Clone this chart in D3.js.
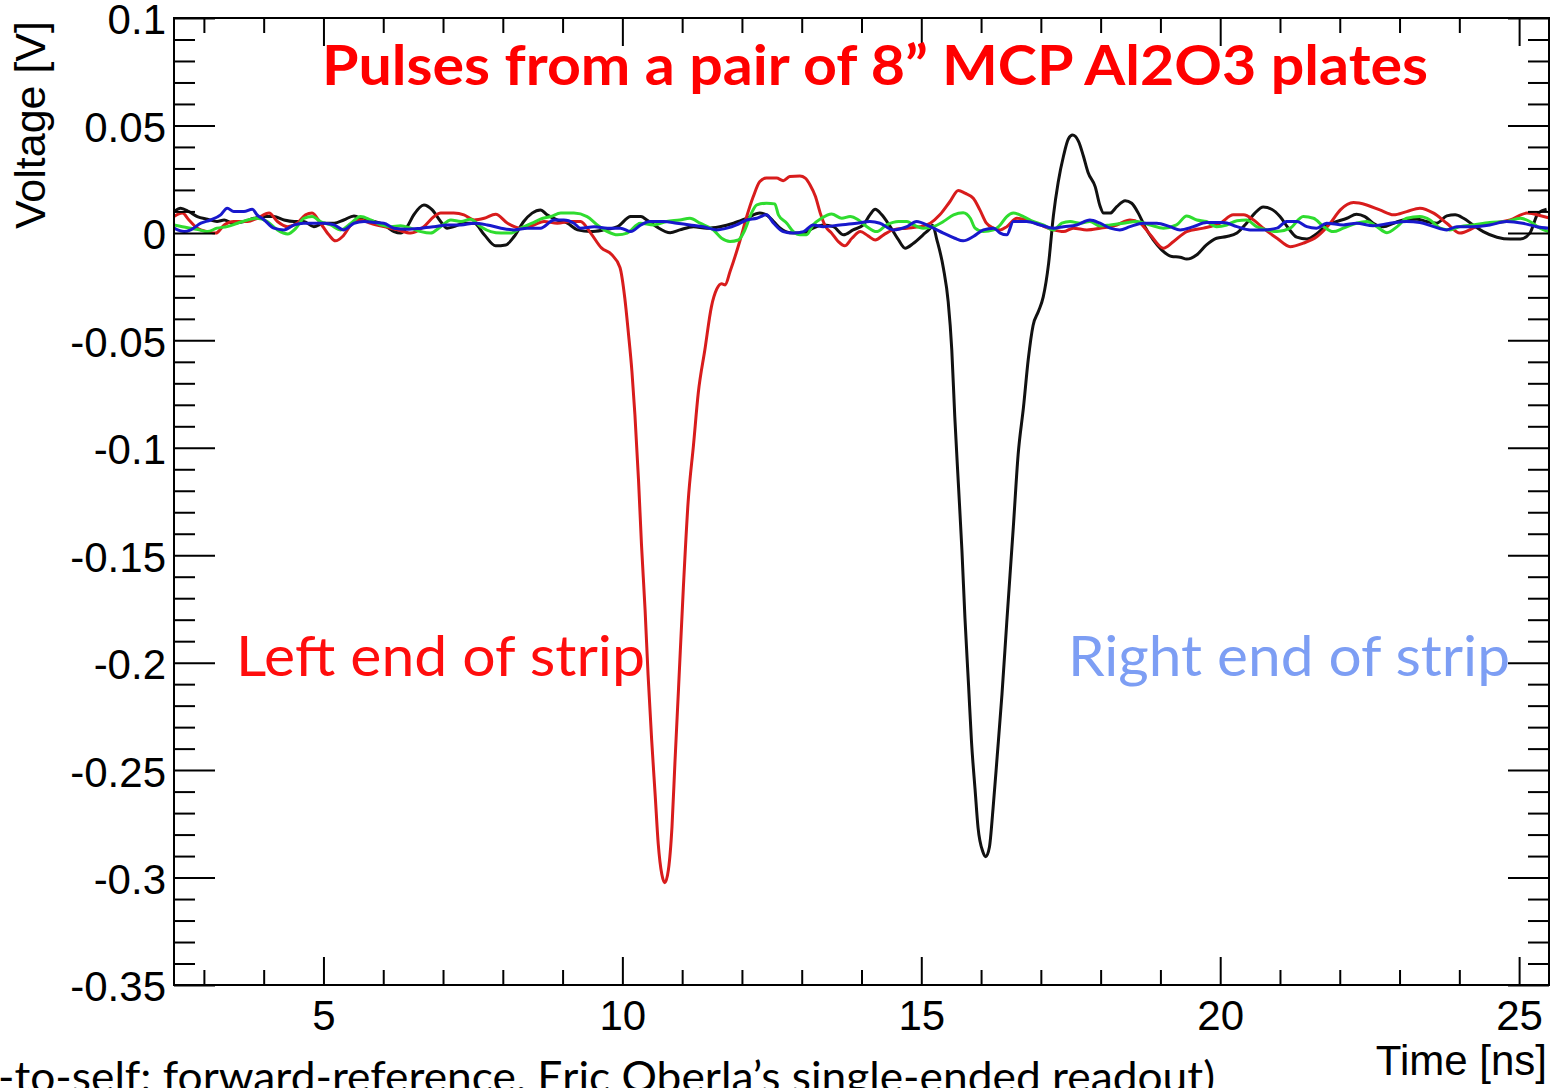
<!DOCTYPE html>
<html>
<head>
<meta charset="utf-8">
<script src="https://cdn.jsdelivr.net/npm/d3@7"></script>
<style>
  body { margin: 0; background: white; }
  svg { display: block; }
</style>
</head>
<body>
<div class="wrapper"></div>
<script>
// axis setup
const xTicks = [5, 10, 15, 20, 25];
const xTickLabels = ["5", "10", "15", "20", "25"];
const yTicks = [0.1, 0.05, 0, -0.05, -0.1, -0.15, -0.2, -0.25, -0.3, -0.35];
const yTickLabels = ["0.1", "0.05", "0", "-0.05", "-0.1", "-0.15", "-0.2", "-0.25", "-0.3", "-0.35"];

// traces: [time ns, voltage V]
const blackTrace = [
  [2.50,0.0099],[2.61,0.0115],[2.75,0.0099],[2.89,0.0076],[3.06,0.0064],[3.22,0.0053],[3.34,0.0060],[3.48,0.0045],
  [3.67,0.0053],[3.84,0.0068],[4.01,0.0076],[4.17,0.0076],[4.34,0.0060],[4.51,0.0053],[4.67,0.0053],[4.84,0.0029],
  [5.01,0.0045],[5.18,0.0045],[5.34,0.0060],[5.51,0.0079],[5.68,0.0060],[5.85,0.0053],[6.01,0.0037],[6.18,0.0006],
  [6.29,-0.0001],[6.40,0.0029],[6.51,0.0084],[6.68,0.0130],[6.82,0.0107],[6.96,0.0053],[7.07,0.0022],[7.18,0.0029],
  [7.35,0.0045],[7.52,0.0045],[7.69,-0.0009],[7.88,-0.0060],[8.05,-0.0056],[8.19,-0.0017],[8.35,0.0053],[8.49,0.0092],
  [8.63,0.0107],[8.74,0.0084],[8.91,0.0060],[9.08,0.0045],[9.25,0.0014],[9.47,0.0006],[9.69,0.0014],[9.92,0.0029],
  [10.14,0.0076],[10.31,0.0076],[10.41,0.0060],[10.57,0.0029],[10.80,0.0001],[10.96,0.0014],[11.19,0.0029],[11.41,0.0022],
  [11.63,0.0029],[11.86,0.0045],[12.08,0.0068],[12.30,0.0092],[12.41,0.0084],[12.53,0.0053],[12.64,0.0022],[12.80,0.0001],
  [13.03,-0.0001],[13.19,0.0022],[13.36,0.0037],[13.53,0.0029],[13.70,-0.0009],[13.86,0.0014],[14.03,0.0037],[14.14,0.0084],
  [14.23,0.0110],[14.34,0.0084],[14.48,0.0029],[14.62,-0.0033],[14.73,-0.0071],[14.87,-0.0048],[15.03,-0.0009],[15.15,0.0022],
  [15.19,0.0036],[15.26,-0.0031],[15.37,-0.0164],[15.45,-0.0320],[15.51,-0.0543],[15.56,-0.0854],[15.62,-0.1166],[15.68,-0.1478],
  [15.73,-0.1790],[15.79,-0.2101],[15.84,-0.2368],[15.90,-0.2591],[15.95,-0.2769],[16.03,-0.2880],[16.08,-0.2903],[16.14,-0.2858],
  [16.20,-0.2680],[16.27,-0.2435],[16.35,-0.2146],[16.43,-0.1812],[16.54,-0.1367],[16.62,-0.1032],[16.71,-0.0810],[16.79,-0.0587],
  [16.87,-0.0431],[16.96,-0.0365],[17.04,-0.0298],[17.13,-0.0142],[17.21,0.0080],[17.29,0.0236],[17.38,0.0359],[17.46,0.0437],
  [17.53,0.0455],[17.63,0.0426],[17.71,0.0359],[17.79,0.0281],[17.91,0.0214],[17.99,0.0125],[18.05,0.0092],[18.16,0.0092],
  [18.27,0.0122],[18.41,0.0150],[18.52,0.0138],[18.63,0.0092],[18.74,0.0029],[18.88,-0.0033],[19.02,-0.0079],[19.19,-0.0110],
  [19.33,-0.0113],[19.44,-0.0122],[19.61,-0.0102],[19.77,-0.0056],[19.94,-0.0025],[20.11,-0.0017],[20.28,-0.0001],[20.44,0.0045],
  [20.58,0.0092],[20.72,0.0120],[20.86,0.0110],[21.00,0.0076],[21.14,0.0022],[21.28,-0.0020],[21.45,-0.0029],[21.61,-0.0005],
  [21.78,0.0037],[21.95,0.0053],[22.12,0.0068],[22.28,0.0087],[22.42,0.0076],[22.56,0.0045],[22.73,0.0029],[22.90,0.0045],
  [23.06,0.0060],[23.29,0.0064],[23.45,0.0053],[23.62,0.0045],[23.79,0.0079],[23.93,0.0084],[24.07,0.0068],[24.23,0.0037],
  [24.40,0.0006],[24.63,-0.0020],[24.85,-0.0029],[25.02,-0.0029],[25.18,-0.0001],[25.32,0.0092],[25.46,0.0110]
];

const redTrace = [
  [2.50,0.0076],[2.64,0.0092],[2.75,0.0060],[2.89,0.0022],[3.06,0.0006],[3.20,-0.0001],[3.34,0.0037],[3.50,0.0053],
  [3.73,0.0053],[3.89,0.0068],[4.09,0.0092],[4.23,0.0053],[4.40,0.0029],[4.56,0.0045],[4.70,0.0084],[4.81,0.0092],
  [4.95,0.0045],[5.09,-0.0009],[5.20,-0.0037],[5.32,-0.0017],[5.46,0.0037],[5.62,0.0060],[5.79,0.0045],[6.01,0.0029],
  [6.24,0.0014],[6.46,-0.0001],[6.68,0.0029],[6.85,0.0076],[6.96,0.0092],[7.18,0.0092],[7.35,0.0084],[7.52,0.0060],
  [7.69,0.0068],[7.88,0.0087],[8.08,0.0045],[8.30,0.0022],[8.52,0.0037],[8.69,0.0053],[8.91,0.0045],[9.14,0.0053],
  [9.30,0.0053],[9.47,-0.0001],[9.65,-0.0070],[9.82,-0.0101],[9.96,-0.0161],[10.04,-0.0302],[10.10,-0.0464],[10.16,-0.0645],
  [10.21,-0.0847],[10.27,-0.1149],[10.32,-0.1452],[10.38,-0.1754],[10.43,-0.2057],[10.49,-0.2359],[10.55,-0.2622],[10.60,-0.2843],
  [10.66,-0.2985],[10.71,-0.3024],[10.77,-0.2964],[10.83,-0.2764],[10.88,-0.2461],[10.94,-0.2117],[11.02,-0.1652],[11.10,-0.1252],
  [11.19,-0.0986],[11.27,-0.0744],[11.38,-0.0544],[11.49,-0.0343],[11.58,-0.0261],[11.66,-0.0237],[11.72,-0.0242],[11.80,-0.0181],
  [11.97,-0.0033],[12.08,0.0076],[12.19,0.0169],[12.30,0.0239],[12.41,0.0255],[12.58,0.0255],[12.69,0.0243],[12.80,0.0262],
  [12.97,0.0265],[13.06,0.0255],[13.14,0.0223],[13.23,0.0169],[13.31,0.0092],[13.40,0.0029],[13.50,-0.0001],[13.61,-0.0040],
  [13.72,-0.0060],[13.84,-0.0025],[13.98,0.0006],[14.11,-0.0014],[14.23,-0.0033],[14.37,-0.0009],[14.53,0.0014],[14.76,0.0022],
  [14.98,0.0029],[15.15,0.0045],[15.31,0.0084],[15.48,0.0146],[15.62,0.0197],[15.73,0.0185],[15.87,0.0161],[15.98,0.0107],
  [16.09,0.0045],[16.21,0.0022],[16.32,0.0014],[16.43,0.0029],[16.60,0.0068],[16.76,0.0060],[16.99,0.0037],[17.21,0.0014],
  [17.38,0.0006],[17.54,0.0022],[17.77,0.0014],[17.99,0.0022],[18.27,0.0037],[18.49,0.0060],[18.66,0.0045],[18.83,-0.0009],
  [19.05,-0.0071],[19.22,-0.0040],[19.44,0.0006],[19.72,0.0022],[20.00,0.0045],[20.22,0.0084],[20.39,0.0084],[20.56,0.0060],
  [20.72,0.0022],[20.95,-0.0025],[21.17,-0.0064],[21.39,-0.0048],[21.62,-0.0017],[21.84,0.0045],[22.01,0.0107],[22.23,0.0141],
  [22.45,0.0130],[22.67,0.0107],[22.90,0.0084],[23.12,0.0099],[23.34,0.0115],[23.57,0.0092],[23.79,0.0045],[24.01,-0.0001],
  [24.29,0.0029],[24.57,0.0045],[24.85,0.0060],[25.13,0.0092],[25.41,0.0076],[25.50,0.0070]
];

const greenTrace = [
  [2.50,0.0037],[2.64,0.0029],[2.78,0.0022],[2.92,0.0014],[3.06,0.0006],[3.22,0.0022],[3.39,0.0029],[3.56,0.0045],
  [3.73,0.0060],[3.89,0.0068],[4.06,0.0053],[4.23,0.0014],[4.40,-0.0005],[4.54,0.0022],[4.67,0.0068],[4.81,0.0076],
  [4.95,0.0053],[5.12,0.0037],[5.29,0.0014],[5.46,0.0045],[5.62,0.0076],[5.79,0.0060],[5.96,0.0037],[6.13,0.0029],
  [6.29,0.0033],[6.46,0.0022],[6.63,0.0006],[6.79,-0.0001],[6.96,0.0029],[7.13,0.0060],[7.30,0.0053],[7.46,0.0064],
  [7.63,0.0029],[7.80,0.0006],[7.97,-0.0001],[8.13,-0.0001],[8.30,0.0022],[8.49,0.0045],[8.63,0.0064],[8.80,0.0076],
  [8.97,0.0092],[9.19,0.0092],[9.41,0.0076],[9.58,0.0037],[9.75,0.0006],[9.92,-0.0009],[10.08,-0.0001],[10.30,0.0045],
  [10.52,0.0037],[10.74,0.0053],[10.96,0.0060],[11.13,0.0068],[11.30,0.0045],[11.52,0.0014],[11.66,-0.0025],[11.80,-0.0040],
  [11.94,-0.0033],[12.05,0.0014],[12.16,0.0092],[12.25,0.0130],[12.41,0.0138],[12.55,0.0135],[12.61,0.0084],[12.75,0.0045],
  [12.86,0.0006],[12.97,-0.0009],[13.08,-0.0009],[13.19,0.0037],[13.33,0.0068],[13.50,0.0088],[13.67,0.0068],[13.81,0.0076],
  [13.95,0.0060],[14.09,0.0029],[14.25,0.0006],[14.42,0.0037],[14.62,0.0053],[14.76,0.0053],[14.87,0.0037],[15.03,0.0022],
  [15.20,0.0029],[15.37,0.0053],[15.54,0.0084],[15.70,0.0094],[15.82,0.0068],[15.90,0.0022],[16.04,0.0006],[16.21,0.0014],
  [16.32,0.0037],[16.43,0.0076],[16.54,0.0092],[16.71,0.0076],[16.87,0.0053],[17.04,0.0037],[17.21,0.0014],[17.35,0.0045],
  [17.49,0.0053],[17.66,0.0045],[17.82,0.0053],[17.99,0.0032],[18.16,0.0037],[18.38,0.0045],[18.60,0.0053],[18.83,0.0037],
  [19.05,0.0022],[19.27,0.0037],[19.44,0.0079],[19.61,0.0060],[19.77,0.0053],[19.94,0.0029],[20.11,0.0037],[20.28,0.0057],
  [20.44,0.0060],[20.61,0.0029],[20.78,0.0014],[20.95,0.0006],[21.17,0.0022],[21.39,0.0076],[21.56,0.0068],[21.73,0.0029],
  [21.89,0.0006],[22.06,0.0022],[22.28,0.0045],[22.45,0.0053],[22.62,0.0029],[22.79,0.0001],[22.96,0.0029],[23.12,0.0068],
  [23.34,0.0076],[23.51,0.0060],[23.68,0.0022],[23.84,0.0014],[24.01,0.0029],[24.23,0.0037],[24.51,0.0048],[24.79,0.0053],
  [25.02,0.0068],[25.18,0.0053],[25.35,0.0022],[25.50,0.0005]
];

const blueTrace = [
  [2.50,0.0022],[2.67,0.0006],[2.78,0.0014],[2.95,0.0045],[3.11,0.0060],[3.28,0.0084],[3.39,0.0115],[3.50,0.0099],
  [3.67,0.0099],[3.81,0.0110],[3.89,0.0084],[4.01,0.0060],[4.17,0.0022],[4.34,0.0014],[4.51,0.0037],[4.67,0.0045],
  [4.84,0.0045],[5.01,0.0045],[5.18,0.0037],[5.34,0.0014],[5.51,0.0045],[5.68,0.0053],[5.85,0.0048],[6.01,0.0045],
  [6.18,0.0022],[6.40,0.0017],[6.63,0.0022],[6.85,0.0029],[7.07,0.0037],[7.30,0.0037],[7.52,0.0045],[7.74,0.0037],
  [7.97,0.0022],[8.19,0.0014],[8.41,0.0022],[8.63,0.0022],[8.86,0.0060],[9.02,0.0060],[9.19,0.0045],[9.30,0.0022],
  [9.53,0.0029],[9.75,0.0022],[9.97,0.0022],[10.14,0.0006],[10.31,0.0037],[10.46,0.0053],[10.69,0.0053],[10.91,0.0045],
  [11.13,0.0037],[11.35,0.0029],[11.58,0.0014],[11.75,0.0022],[11.91,0.0037],[12.08,0.0060],[12.25,0.0068],[12.41,0.0084],
  [12.53,0.0045],[12.69,0.0006],[12.86,-0.0001],[13.03,0.0006],[13.19,0.0037],[13.36,0.0029],[13.64,0.0037],[13.92,0.0045],
  [14.14,0.0053],[14.31,0.0045],[14.53,0.0014],[14.76,0.0029],[14.92,0.0053],[15.15,0.0029],[15.37,-0.0001],[15.56,-0.0025],
  [15.70,-0.0037],[15.87,-0.0017],[16.04,0.0014],[16.21,0.0022],[16.32,-0.0001],[16.43,-0.0009],[16.54,0.0053],[16.76,0.0053],
  [16.99,0.0037],[17.21,0.0022],[17.38,0.0029],[17.60,0.0037],[17.82,0.0060],[17.99,0.0045],[18.16,0.0022],[18.32,0.0014],
  [18.49,0.0029],[18.71,0.0045],[18.94,0.0045],[19.16,0.0029],[19.33,0.0014],[19.55,0.0029],[19.77,0.0048],[20.05,0.0048],
  [20.28,0.0029],[20.50,0.0014],[20.72,0.0014],[20.95,0.0022],[21.11,0.0053],[21.28,0.0053],[21.45,0.0029],[21.61,0.0022],
  [21.78,0.0045],[22.06,0.0037],[22.28,0.0045],[22.56,0.0033],[22.84,0.0045],[23.12,0.0053],[23.34,0.0048],[23.57,0.0029],
  [23.79,0.0014],[23.96,0.0029],[24.23,0.0029],[24.51,0.0037],[24.79,0.0053],[25.06,0.0045],[25.29,0.0029],[25.50,0.0022]
];

const traces = [
  { name: "black", data: blackTrace, color: "#111111" },
  { name: "red", data: redTrace, color: "#d81c1c" },
  { name: "green", data: greenTrace, color: "#2fdc2f" },
  { name: "blue", data: blueTrace, color: "#1818cc" }
];

const width = 1556, height = 1088;
const plot = { left: 174, right: 1549, top: 18, bottom: 985 };

const svg = d3.select(".wrapper")
  .append("svg")
  .attr("width", width)
  .attr("height", height)
  .style("font-family", "'Liberation Sans', Arial, sans-serif");

const x = d3.scaleLinear().domain([2.5, 25.5]).range([plot.left, plot.right]);
const y = d3.scaleLinear().domain([-0.35, 0.1]).range([plot.bottom, plot.top]);

svg.append("clipPath")
  .attr("id", "plotclip")
  .append("rect")
  .attr("x", plot.left)
  .attr("y", plot.top)
  .attr("width", plot.right - plot.left)
  .attr("height", plot.bottom - plot.top);

// traces
const line = d3.line()
  .x(d => x(d[0]))
  .y(d => y(d[1]))
  .curve(d3.curveMonotoneX);

svg.append("g")
  .attr("clip-path", "url(#plotclip)")
  .selectAll("path")
  .data(traces)
  .enter()
  .append("path")
  .attr("d", d => line(d.data))
  .attr("fill", "none")
  .attr("stroke", d => d.color)
  .attr("stroke-width", 3)
  .attr("stroke-linejoin", "round");

// ticks, ROOT style on all four sides
const xMinor = d3.range(3, 26, 1).filter(v => !xTicks.includes(v));
const yMinor = d3.range(-35, 11, 1).map(v => v / 100).filter(v => !yTicks.some(t => Math.abs(t - v) < 1e-9));

const styleAxis = g => {
  g.select(".domain").remove();
  g.selectAll("line").attr("stroke", "black").attr("stroke-width", 2);
  g.selectAll("text")
    .attr("fill", "black")
    .style("font-family", "'Liberation Sans', Arial, sans-serif")
    .style("font-size", "42px");
};

svg.append("g")
  .attr("transform", `translate(0,${plot.bottom})`)
  .call(d3.axisBottom(x).tickValues(xTicks).tickSize(-28).tickPadding(15)
    .tickFormat((d, i) => xTickLabels[i]))
  .call(styleAxis);

svg.append("g")
  .attr("transform", `translate(0,${plot.bottom})`)
  .call(d3.axisBottom(x).tickValues(xMinor).tickSize(-15).tickFormat(""))
  .call(styleAxis);

svg.append("g")
  .attr("transform", `translate(0,${plot.top})`)
  .call(d3.axisTop(x).tickValues(xTicks).tickSize(-28).tickFormat(""))
  .call(styleAxis);

svg.append("g")
  .attr("transform", `translate(0,${plot.top})`)
  .call(d3.axisTop(x).tickValues(xMinor).tickSize(-15).tickFormat(""))
  .call(styleAxis);

svg.append("g")
  .attr("transform", `translate(${plot.left},0)`)
  .call(d3.axisLeft(y).tickValues(yTicks).tickSize(-41).tickPadding(8)
    .tickFormat((d, i) => yTickLabels[i]))
  .call(styleAxis)
  .selectAll("text")
  .attr("dy", "0.38em");

svg.append("g")
  .attr("transform", `translate(${plot.left},0)`)
  .call(d3.axisLeft(y).tickValues(yMinor).tickSize(-21).tickFormat(""))
  .call(styleAxis);

svg.append("g")
  .attr("transform", `translate(${plot.right},0)`)
  .call(d3.axisRight(y).tickValues(yTicks).tickSize(-41).tickFormat(""))
  .call(styleAxis);

svg.append("g")
  .attr("transform", `translate(${plot.right},0)`)
  .call(d3.axisRight(y).tickValues(yMinor).tickSize(-21).tickFormat(""))
  .call(styleAxis);

// frame
svg.append("rect")
  .attr("x", plot.left)
  .attr("y", plot.top)
  .attr("width", plot.right - plot.left)
  .attr("height", plot.bottom - plot.top)
  .attr("fill", "none")
  .attr("stroke", "black")
  .attr("stroke-width", 2);

// axis titles
svg.append("text")
  .attr("x", 1547)
  .attr("y", 1075)
  .attr("text-anchor", "end")
  .style("font-size", "42px")
  .text("Time [ns]");

svg.append("text")
  .attr("transform", "translate(45,21) rotate(-90)")
  .attr("text-anchor", "end")
  .style("font-size", "43px")
  .text("Voltage [V]");

// slide annotations
svg.append("text")
  .attr("x", 322)
  .attr("y", 85)
  .attr("textLength", 1106)
  .attr("lengthAdjust", "spacingAndGlyphs")
  .style("font-family", "Lato, 'Open Sans', sans-serif")
  .style("font-weight", 700)
  .style("font-size", "56px")
  .attr("fill", "#ff0000")
  .text("Pulses from a pair of 8\u201D MCP Al2O3 plates");

svg.append("text")
  .attr("x", 236)
  .attr("y", 676)
  .attr("textLength", 409)
  .attr("lengthAdjust", "spacingAndGlyphs")
  .style("font-family", "Lato, 'Open Sans', sans-serif")
  .style("font-size", "56px")
  .attr("fill", "#ff0d0d")
  .text("Left end of strip");

svg.append("text")
  .attr("x", 1068)
  .attr("y", 676)
  .attr("textLength", 442)
  .attr("lengthAdjust", "spacingAndGlyphs")
  .style("font-family", "Lato, 'Open Sans', sans-serif")
  .style("font-size", "56px")
  .attr("fill", "#7d9ef4")
  .text("Right end of strip");

// slide footnote, cut by the left and bottom edges as on the slide
svg.append("text")
  .attr("x", -2)
  .attr("y", 1092)
  .attr("textLength", 1217)
  .attr("lengthAdjust", "spacingAndGlyphs")
  .style("font-family", "Lato, 'Open Sans', sans-serif")
  .style("font-size", "42px")
  .attr("fill", "black")
  .text("-to-self: forward-reference, Eric Oberla\u2019s single-ended readout)");
</script>
</body>
</html>
